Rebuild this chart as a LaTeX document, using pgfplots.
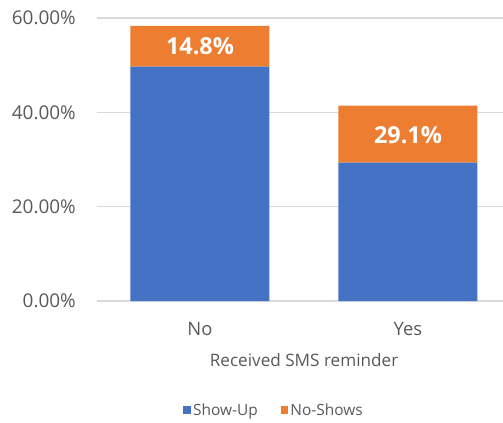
\documentclass[border=0pt]{standalone}
\usepackage{fontspec}
\setmainfont{Open Sans}
\usepackage{pgfplots}
\pgfplotsset{compat=1.18}
\definecolor{sblue}{HTML}{4472C4}
\definecolor{sorange}{HTML}{ED7D31}
\definecolor{tgray}{HTML}{595959}
\definecolor{ggray}{HTML}{D9D9D9}
\begin{document}
\begin{tikzpicture}
\path[use as bounding box] (0,0) rectangle (503bp,423bp);
\begin{axis}[
  at={(97bp,122bp)}, anchor=south west,
  scale only axis, width=406bp, height=283bp,
  ybar stacked, bar width=139bp,
  xmin=-0.495, xmax=1.457, ymin=0, ymax=60,
  xtick={0,1}, xticklabels={No,Yes},
  ytick={0,20,40,60},
  yticklabels={0.00\%,20.00\%,40.00\%,60.00\%},
  separate axis lines,
  axis line style={draw=none},
  tick style={draw=none},
  ymajorgrids, grid style={ggray, line width=1.2bp},
  yticklabel style={font=\fontsize{19}{21}\selectfont, text=tgray, anchor=east, inner sep=0pt, xshift=-21bp},
  xticklabel style={font=\fontsize{18.5}{20}\selectfont, text=tgray, anchor=north, inner sep=0pt, yshift=-20.7bp},
  xlabel={Received SMS reminder},
  xlabel style={at={(rel axis cs:0.51,0)}, anchor=north, inner sep=0pt, yshift=-52bp, font=\fontsize{17.2}{19}\selectfont, text=tgray},
  legend columns=2,
  legend style={draw=none, fill=none, at={(rel axis cs:0.436,-0.385)}, anchor=center,
    font=\fontsize{15.5}{17}\selectfont, text=tgray,
    /tikz/column 2/.style={column sep=21bp}},
  clip=false,
]
\addplot[fill=sblue, draw=none, legend image code/.code={\fill[sblue] (0bp,-3.85bp) rectangle (7.7bp,3.85bp);}] coordinates {(0,49.7) (1,29.35)};
\addlegendentry{Show-Up}
\addplot[fill=sorange, draw=none, legend image code/.code={\fill[sorange] (0bp,-3.85bp) rectangle (7.7bp,3.85bp);}] coordinates {(0,8.65) (1,12.05)};
\addlegendentry{No-Shows}
\coordinate (l1) at (axis cs:0,54.0);
\coordinate (l2) at (axis cs:1,35.2);
\end{axis}
\node[font=\bfseries\fontsize{23.5}{25}\selectfont, text=white] at (l1) {14.8\%};
\node[font=\bfseries\fontsize{23.5}{25}\selectfont, text=white] at (l2) {29.1\%};
\end{tikzpicture}
\end{document}
